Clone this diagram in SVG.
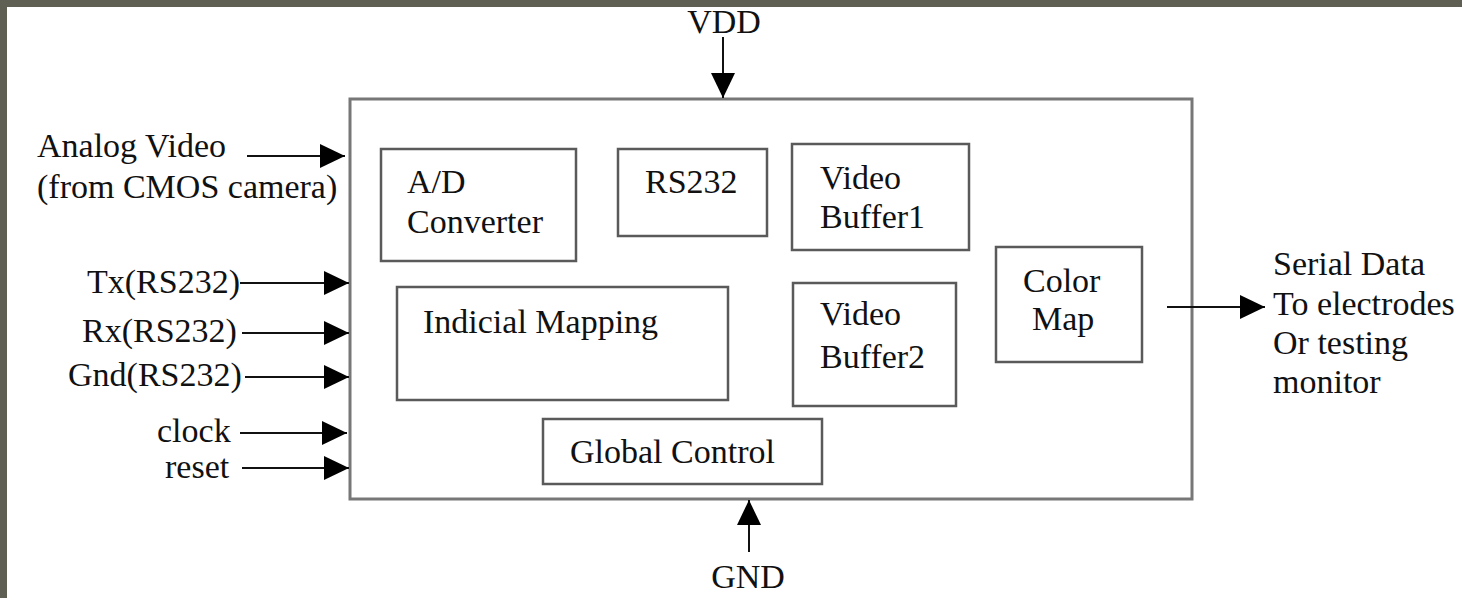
<svg xmlns="http://www.w3.org/2000/svg" width="1462" height="598" viewBox="0 0 1462 598">
<style>
text{font-family:"Liberation Serif","Times New Roman",serif;font-size:34px;fill:#111}
.blk{fill:none;stroke:#5a5a5a;stroke-width:2.5}
.outer{fill:none;stroke:#777;stroke-width:3}
.wire{stroke:#111;stroke-width:2;fill:none}
</style>
<defs>
<marker id="ah" viewBox="0 0 25 24" refX="25" refY="12" markerWidth="25" markerHeight="24" markerUnits="userSpaceOnUse" orient="auto">
<path d="M0,0 L25,12 L0,24 Z" fill="#000"/>
</marker>
</defs>
<rect x="0" y="0" width="1462" height="598" fill="#fff"/>
<rect x="0" y="0" width="1462" height="7" fill="#5f5f53"/>
<rect x="0" y="0" width="7" height="598" fill="#5f5f53"/>

<g id="chip"><rect class="outer" x="350" y="99" width="842" height="400"/></g>
<g id="ad"><rect class="blk" x="381" y="149" width="195" height="112"/><text x="407" y="193">A/D</text><text x="407" y="233">Converter</text></g>
<g id="rs232"><rect class="blk" x="618" y="149" width="149" height="87"/><text x="645" y="193">RS232</text></g>
<g id="vb1"><rect class="blk" x="792" y="144" width="177" height="106"/><text x="820" y="189">Video</text><text x="820" y="228">Buffer1</text></g>
<g id="colormap"><rect class="blk" x="996" y="247" width="146" height="115"/><text x="1023" y="292">Color</text><text x="1032" y="330">Map</text></g>
<g id="indicial"><rect class="blk" x="397" y="287" width="331" height="113"/><text x="423" y="333">Indicial Mapping</text></g>
<g id="vb2"><rect class="blk" x="793" y="283" width="163" height="123"/><text x="820" y="325">Video</text><text x="820" y="368">Buffer2</text></g>
<g id="global"><rect class="blk" x="543" y="419" width="279" height="65"/><text x="570" y="463">Global Control</text></g>

<g id="labels">
<text x="37" y="157">Analog Video</text>
<text x="37" y="198">(from CMOS camera)</text>
<text x="87" y="293">Tx(RS232)</text>
<text x="82" y="342">Rx(RS232)</text>
<text x="68" y="386">Gnd(RS232)</text>
<text x="157" y="442">clock</text>
<text x="165" y="478">reset</text>
<text x="724" y="33" text-anchor="middle">VDD</text>
<text x="748" y="588" text-anchor="middle">GND</text>
<text x="1273" y="275">Serial Data</text>
<text x="1273" y="315">To electrodes</text>
<text x="1273" y="354">Or testing</text>
<text x="1273" y="393">monitor</text>
</g>

<g id="connectors">
<line class="wire" x1="247" y1="156" x2="345" y2="156" marker-end="url(#ah)"/>
<line class="wire" x1="240" y1="283" x2="349" y2="283" marker-end="url(#ah)"/>
<line class="wire" x1="242" y1="333" x2="349" y2="333" marker-end="url(#ah)"/>
<line class="wire" x1="245" y1="377" x2="349" y2="377" marker-end="url(#ah)"/>
<line class="wire" x1="240" y1="433" x2="347" y2="433" marker-end="url(#ah)"/>
<line class="wire" x1="242" y1="468" x2="349" y2="468" marker-end="url(#ah)"/>
<line class="wire" x1="723" y1="37" x2="723" y2="98" marker-end="url(#ah)"/>
<line class="wire" x1="749" y1="552" x2="749" y2="500" marker-end="url(#ah)"/>
<line class="wire" x1="1167" y1="307" x2="1265" y2="307" marker-end="url(#ah)"/>
</g>
</svg>
